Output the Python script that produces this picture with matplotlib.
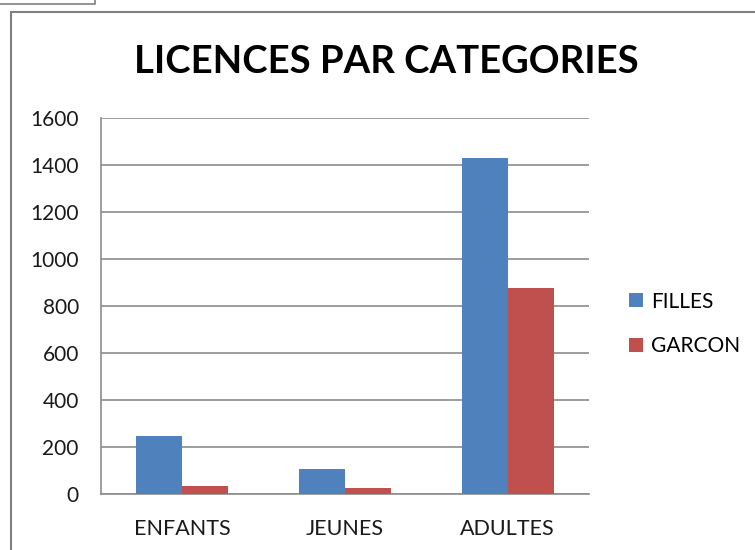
import matplotlib
matplotlib.use("Agg")
import matplotlib.pyplot as plt
from matplotlib.patches import Rectangle, Patch
import numpy as np

categories = ["ENFANTS", "JEUNES", "ADULTES"]
filles = [245, 105, 1430]
garcon = [33, 27, 878]
series_names = ["FILLES", "GARCON"]
yticks = [0, 200, 400, 600, 800, 1000, 1200, 1400, 1600]

plt.rcParams['font.family'] = ['Lato', 'DejaVu Sans']

W, H = 755, 550
fig = plt.figure(figsize=(W / 100, H / 100), dpi=100)
fig.patch.set_facecolor('white')

def fx(px):
    return px / W

def fy(py):
    return 1 - py / H

ax = fig.add_axes([fx(101), fy(494), fx(589) - fx(101), fy(118) - fy(494)])

x = np.arange(len(categories))
w = 0.283
c_blue = '#4F81BD'
c_red = '#C0504D'
ax.bar(x - w / 2, filles, width=w, color=c_blue, zorder=3)
ax.bar(x + w / 2, garcon, width=w, color=c_red, zorder=3)

ax.set_xlim(-0.5, 2.5)
ax.set_ylim(0, 1600)
ax.set_yticks(yticks)
ax.set_yticklabels([str(v) for v in yticks])
ax.set_xticks(x)
ax.set_xticklabels(categories)
ax.tick_params(axis='y', length=0, labelsize=15, colors='#1a1a1a', pad=16)
ax.tick_params(axis='x', length=0, labelsize=15.5, colors='#1a1a1a', pad=18)
ax.yaxis.grid(True, color='#8c8c8c', lw=1.2, zorder=0)
ax.set_axisbelow(True)
for s in ['top', 'right']:
    ax.spines[s].set_visible(False)
for s in ['left', 'bottom']:
    ax.spines[s].set_color('#8c8c8c')
    ax.spines[s].set_linewidth(1.2)

fig.text(fx(386), fy(62), "LICENCES PAR CATEGORIES", ha='center', va='center',
         fontsize=27.5, fontweight='bold', color='black')

handles = [Patch(facecolor=c_blue), Patch(facecolor=c_red)]
fig.legend(handles, series_names, loc='center left',
           bbox_to_anchor=(fx(629), fy(324)), frameon=False,
           fontsize=15, handlelength=0.65, handleheight=0.65,
           handletextpad=0.4, labelspacing=1.2, borderpad=0,
           borderaxespad=0)

# outer chart border and small top-left box
fig.patches.append(Rectangle((fx(11), -0.1), 2, fy(12) + 0.1,
                             transform=fig.transFigure, fill=False,
                             edgecolor='#808080', lw=1.5))
fig.patches.append(Rectangle((-0.1, fy(4)), fx(95) + 0.1, 0.2,
                             transform=fig.transFigure, fill=False,
                             edgecolor='#808080', lw=1.2))

fig.savefig("out.png", dpi=100)
